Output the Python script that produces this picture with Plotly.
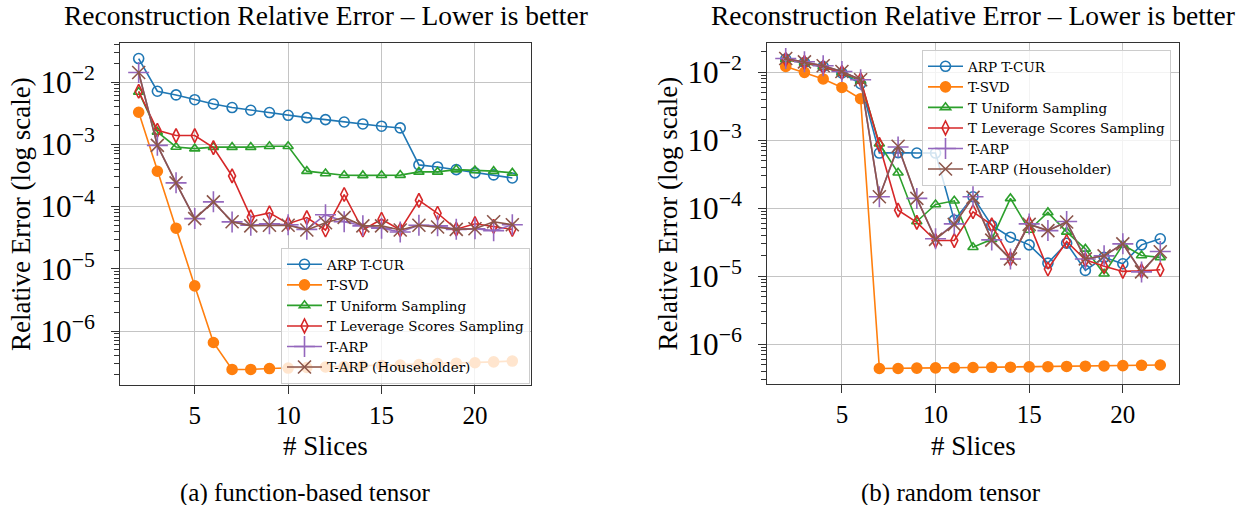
import numpy as np
import plotly.graph_objects as go

# ---------------- data ----------------
slices = list(range(2, 23))
series_names = ["ARP T-CUR", "T-SVD", "T Uniform Sampling",
                "T Leverage Scores Sampling", "T-ARP", "T-ARP (Householder)"]

# (a) function-based tensor
a_arp_tcur = [0.0238, 0.0071, 0.0062, 0.0052, 0.00443, 0.00389, 0.00352, 0.00323, 0.00292, 0.00268,
              0.00249, 0.00228, 0.00212, 0.00195, 0.00183, 0.000466, 0.000432, 0.000392, 0.000347,
              0.000322, 0.000288]
a_tsvd = [0.00327, 0.000369, 4.49e-5, 5.32e-6, 6.56e-7, 2.42e-7, 2.42e-7, 2.5e-7, 2.55e-7, 2.6e-7,
          2.65e-7, 2.7e-7, 2.75e-7, 2.8e-7, 2.85e-7, 2.9e-7, 3.0e-7, 3.05e-7, 3.1e-7, 3.2e-7, 3.3e-7]
a_uniform = [0.0069, 0.00158, 0.000906, 0.00085, 0.0009, 0.0009, 0.0009, 0.00093, 0.00093, 0.00037,
             0.00034, 0.000318, 0.000316, 0.000318, 0.00032, 0.00036, 0.00036, 0.000392, 0.00038,
             0.00037, 0.000347]
a_leverage = [0.0071, 0.00168, 0.00138, 0.00138, 0.000886, 0.00031, 6.8e-5, 7.9e-5, 5.3e-5, 6.65e-5,
              4.2e-5, 0.000156, 4.2e-5, 6.25e-5, 4.2e-5, 0.000126, 7.8e-5, 4.33e-5, 5.3e-5, 4.8e-5, 4.3e-5]
a_tarp = [0.0142, 0.00096, 0.00024, 6.4e-5, 0.000119, 5.67e-5, 5.0e-5, 5.3e-5, 5.1e-5, 4.3e-5,
          7.4e-5, 5.7e-5, 4.9e-5, 4.5e-5, 3.9e-5, 5.0e-5, 4.9e-5, 4.3e-5, 4.4e-5, 4.1e-5, 5.1e-5]
a_tarp_hh = [0.0142, 0.00096, 0.00024, 6.4e-5, 0.000119, 5.7e-5, 4.9e-5, 5.0e-5, 5.0e-5, 4.2e-5,
             5.5e-5, 6.7e-5, 4.9e-5, 4.9e-5, 4.2e-5, 5.0e-5, 4.7e-5, 4.3e-5, 4.4e-5, 5.7e-5, 5.1e-5]

# (b) random tensor
b_arp_tcur = [0.0157, 0.014, 0.0122, 0.0098, 0.0068, 0.00065, 0.00066, 0.00065, 0.00065, 6.7e-5,
              0.000148, 5.6e-5, 3.76e-5, 2.9e-5, 1.56e-5, 3.07e-5, 1.22e-5, 1.9e-5, 1.53e-5, 2.9e-5, 3.56e-5]
b_tsvd = [0.0122, 0.01, 0.008, 0.006, 0.0041, 4.4e-7, 4.4e-7, 4.45e-7, 4.5e-7, 4.52e-7, 4.55e-7,
          4.58e-7, 4.6e-7, 4.65e-7, 4.68e-7, 4.72e-7, 4.76e-7, 4.8e-7, 4.85e-7, 4.9e-7, 4.95e-7]
b_uniform = [0.0155, 0.0138, 0.012, 0.0098, 0.0075, 0.00089, 0.000333, 6.4e-5, 0.000114, 0.000129,
             2.68e-5, 3.5e-5, 0.00014, 4.8e-5, 8.7e-5, 4.5e-5, 2.53e-5, 1.09e-5, 2.9e-5, 2.02e-5, 1.9e-5]
b_leverage = [0.0155, 0.014, 0.012, 0.010, 0.0078, 0.00087, 9.4e-5, 6.2e-5, 3.36e-5, 3.36e-5,
              8.9e-5, 5.7e-5, 1.8e-5, 6.0e-5, 1.28e-5, 3.25e-5, 1.75e-5, 1.4e-5, 1.18e-5, 1.2e-5, 1.25e-5]
b_tarp = [0.016, 0.0143, 0.0125, 0.0103, 0.0078, 0.000148, 0.0008, 0.00014, 3.56e-5, 5.9e-5,
          0.000148, 3.43e-5, 1.8e-5, 5.9e-5, 4.7e-5, 6.4e-5, 1.8e-5, 2.0e-5, 3.0e-5, 1.16e-5, 2.32e-5]
b_tarp_hh = [0.016, 0.0143, 0.0125, 0.0103, 0.0078, 0.000148, 0.00082, 0.00014, 3.5e-5, 5.8e-5,
             0.000145, 3.4e-5, 1.8e-5, 5.8e-5, 4.7e-5, 6.3e-5, 1.8e-5, 2.0e-5, 3.0e-5, 1.16e-5, 2.3e-5]

title_text = "Reconstruction Relative Error – Lower is better"
xlabel_text = "# Slices"
ylabel_text = "Relative Error (log scale)"
captions = ["(a) function-based tensor", "(b) random tensor"]

# ---------------- style ----------------
W, H = 1240, 505
FONT = "Liberation Serif"
LEG_FONT = "DejaVu Serif"
colors = ["#1f77b4", "#ff7f0e", "#2ca02c", "#d62728", "#9467bd", "#8c564b"]
symbols = ["circle-open", "circle", "triangle-up-open", "diamond-tall-open", "cross-thin", "x-thin"]
msizes = [10, 10, 9, 10, 15, 13]

panels = [
    dict(data=[a_arp_tcur, a_tsvd, a_uniform, a_leverage, a_tarp, a_tarp_hh],
         xd=(120, 531), yd=(43, 385), legend="legend", xa="x", ya="y"),
    dict(data=[b_arp_tcur, b_tsvd, b_uniform, b_leverage, b_tarp, b_tarp_hh],
         xd=(767, 1179), yd=(43, 384), legend="legend2", xa="x2", ya="y2"),
]

fig = go.Figure()
for p in panels:
    for i, (name, ys) in enumerate(zip(series_names, p["data"])):
        fig.add_trace(go.Scatter(
            x=slices, y=ys, name=name, mode="lines+markers",
            xaxis=p["xa"], yaxis=p["ya"], legend=p["legend"],
            line=dict(color=colors[i], width=1.6),
            marker=dict(symbol=symbols[i], size=msizes[i], color=colors[i],
                        line=dict(color=colors[i], width=1.6)),
        ))

def px_x(v):
    return v / W

def px_y(v):
    return 1 - v / H

axis_common = dict(showline=True, mirror=True, linecolor="#333333", linewidth=1.2,
                   showgrid=True, gridcolor="#c4c4c4", gridwidth=1, zeroline=False,
                   ticks="outside", tickcolor="#333333", tickwidth=1, ticklen=8,
                   tickfont=dict(family=FONT, size=25, color="black"))

layout = dict(width=W, height=H, margin=dict(l=0, r=0, t=0, b=0),
              paper_bgcolor="white", plot_bgcolor="white",
              font=dict(family=FONT, color="black"))

for k, p in enumerate(panels):
    suf = "" if k == 0 else "2"
    allv = np.concatenate([np.asarray(d, dtype=float) for d in p["data"]])
    lo, hi = np.log10(allv.min()), np.log10(allv.max())
    pad = 0.05 * (hi - lo)
    xlo, xhi = min(slices), max(slices)
    xpad = 0.05 * (xhi - xlo)
    layout["xaxis" + suf] = dict(axis_common, domain=[px_x(p["xd"][0]), px_x(p["xd"][1])],
                                 range=[xlo - xpad, xhi + xpad], tickvals=[5, 10, 15, 20],
                                 anchor="y" + suf, ticklabelstandoff=0)
    layout["yaxis" + suf] = dict(axis_common, type="log",
                                 domain=[px_y(p["yd"][1]), px_y(p["yd"][0])],
                                 range=[lo - pad, hi + pad], dtick=1,
                                 exponentformat="power", showexponent="all",
                                 anchor="x" + suf, ticklabelstandoff=11,
                                 minor=dict(ticks="outside", ticklen=5, tickwidth=1,
                                            tickcolor="#333333", showgrid=False, dtick="D1"))

legend_common = dict(bgcolor="rgba(255,255,255,0.8)", bordercolor="#cccccc", borderwidth=1,
                     font=dict(family=LEG_FONT, size=13.5, color="black"), itemwidth=35,
                     tracegroupgap=0)
layout["legend"] = dict(legend_common, x=px_x(530), y=px_y(384), xanchor="right", yanchor="bottom")
layout["legend2"] = dict(legend_common, x=px_x(1171), y=px_y(50), xanchor="right", yanchor="top")

ann = []
for k, p in enumerate(panels):
    cx = (p["xd"][0] + p["xd"][1]) / 2
    ann.append(dict(text=title_text, x=px_x(cx), y=px_y(15), xref="paper", yref="paper",
                    showarrow=False, xanchor="center", yanchor="middle",
                    font=dict(family=FONT, size=27.5, color="black")))
    ann.append(dict(text=xlabel_text, x=px_x(cx), y=px_y(446), xref="paper", yref="paper",
                    showarrow=False, xanchor="center", yanchor="middle",
                    font=dict(family=FONT, size=27, color="black")))
    ann.append(dict(text=ylabel_text, x=px_x([21, 668][k]), y=px_y((p["yd"][0] + p["yd"][1]) / 2),
                    xref="paper", yref="paper", showarrow=False, textangle=-90,
                    xanchor="center", yanchor="middle",
                    font=dict(family=FONT, size=27, color="black")))
    ann.append(dict(text=captions[k], x=px_x([305, 951][k]), y=px_y(493), xref="paper", yref="paper",
                    showarrow=False, xanchor="center", yanchor="middle",
                    font=dict(family=FONT, size=25, color="black")))
layout["annotations"] = ann

fig.update_layout(**layout)
fig.write_html("out.html", config={"displayModeBar": False},
               post_script="document.body.style.margin='0';")
